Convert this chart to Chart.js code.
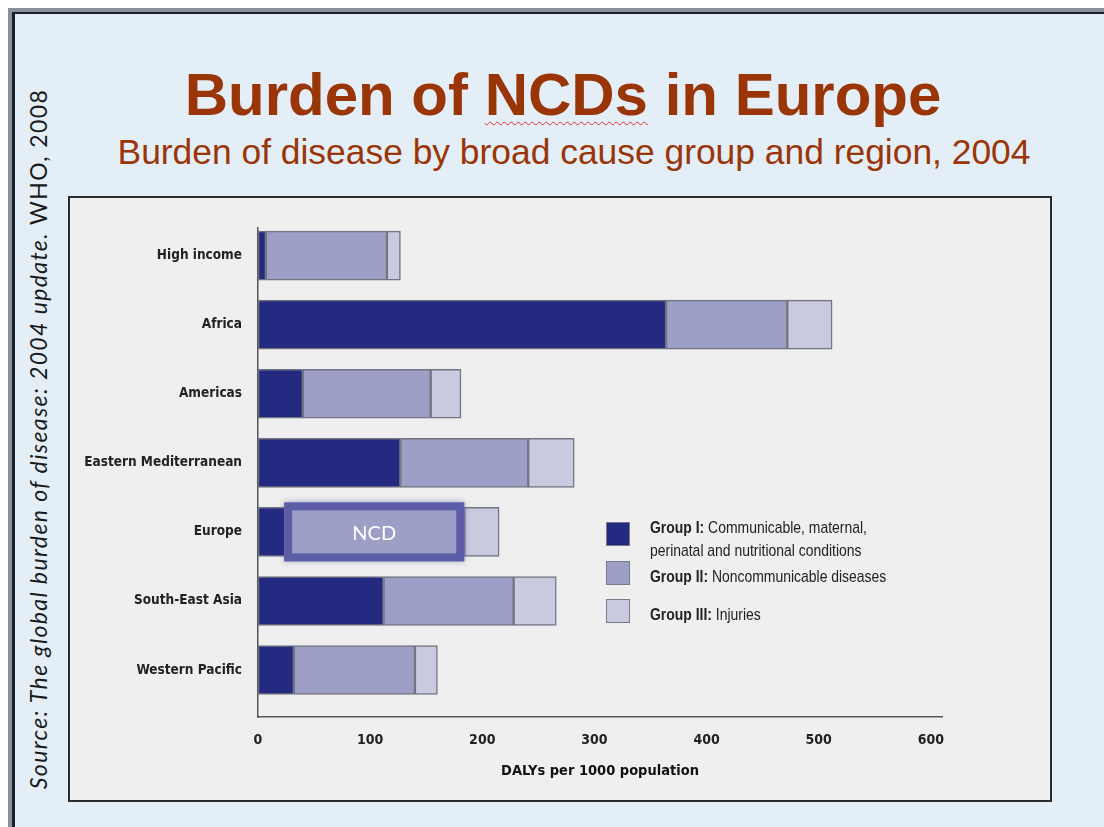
<!DOCTYPE html>
<html>
<head>
<meta charset="utf-8">
<script src="https://cdn.jsdelivr.net/npm/chart.js@4.4.1/dist/chart.umd.min.js"></script>
<style>
  html, body { margin: 0; padding: 0; background: #fff; }
  .page { position: relative; width: 1104px; height: 827px; overflow: hidden; background: #fff; }
  .frame { position: absolute; left: 8px; top: 8px; right: 0; bottom: 0;
    border-left: 4px solid #8b909e; border-top: 4px solid #8b909e; }
  .slide { position: absolute; left: 0; top: 0; right: 0; bottom: 0;
    border-left: 3px solid #1c1e2b; border-top: 2px solid #1c1e2b; background: #e3eef7; }
  .title { position: absolute; left: 563px; top: 65px; transform: translateX(-50%);
    white-space: nowrap; font: bold 60px/60px "Liberation Sans", Arial, sans-serif; color: #9a3508; }
  .title .ncds { text-decoration: underline wavy #e0302a; text-decoration-thickness: 1px; text-underline-offset: 6px; }
  .subtitle { position: absolute; left: 574px; top: 134px; transform: translateX(-50%);
    white-space: nowrap; font: 35.4px/36px "Liberation Sans", Arial, sans-serif; color: #9a3508; }
  .source { position: absolute; left: 38px; top: 439px; transform: translate(-50%, -50%) rotate(-90deg);
    white-space: nowrap; font: 23px Lato, "Open Sans", sans-serif; letter-spacing: 1.4px; color: #1a1a1a; }
  .source i { font-style: italic; }
  .panel { position: absolute; left: 68px; top: 196px; width: 980px; height: 602px;
    border: 2px solid #2c2c2c; background: #efefef; }
  .panel canvas { position: absolute; left: 0; top: 0; }
  .legend { position: absolute; left: 536px; top: 0; font-family: "Liberation Sans", Arial, sans-serif;
    font-size: 17px; line-height: 23px; color: #222; }
  .legend .row { position: absolute; left: 0; display: flex; align-items: flex-start; width: 340px; }
  .legend .box { width: 22px; height: 22px; border: 1px solid #7a7b88; flex: none; }
  .legend .txt { margin-left: 20px; width: 300px; transform: scaleX(0.82); transform-origin: left top; }
  .legend b { font-weight: bold; }
</style>
</head>
<body>
<div class="page">
  <div class="frame"><div class="slide"></div></div>
  <div class="title">Burden of <span class="ncds">NCDs</span> in Europe</div>
  <div class="subtitle">Burden of disease by broad cause group and region, 2004</div>
  <div class="source"><i>Source: The global burden of disease: 2004 update.</i> WHO, 2008</div>
  <div class="panel">
    <canvas id="chart" width="980" height="602"></canvas>
    <div class="legend" id="legend"></div>
  </div>
</div>
<script>
// DALYs per 1000 population, 2004
const regions = ['High income', 'Africa', 'Americas', 'Eastern Mediterranean', 'Europe', 'South-East Asia', 'Western Pacific'];
const groupI = [7, 364, 40, 127, 26, 112, 32];
const groupII = [108, 108, 114, 114, 158, 116, 108];
const groupIII = [12, 40, 27, 41, 31, 38, 20];
const xTicks = [0, 100, 200, 300, 400, 500, 600];
const groupNames = ['Group I:', 'Group II:', 'Group III:'];
const groupDescriptions = ['Communicable, maternal, perinatal and nutritional conditions', 'Noncommunicable diseases', 'Injuries'];
const highlightRegion = 'Europe';
const highlightText = 'NCD';

const COLORS = ['#242a80', '#9d9fc6', '#c9cadf'];
const NARROW = '"Liberation Sans Narrow", "DejaVu Sans Condensed", sans-serif';

function toPoints(values) {
  return values.map((v, i) => ({ x: v, y: i }));
}

// box round the NCD segment of the highlighted region
const ncdBox = {
  id: 'ncdBox',
  afterDatasetsDraw(chart) {
    const idx = regions.indexOf(highlightRegion);
    const el = chart.getDatasetMeta(1).data[idx];
    const { x, base, y, height } = el.getProps(['x', 'base', 'y', 'height'], true);
    const ctx = chart.ctx;
    const left = base - 3, right = x, top = y - height / 2 - 5, bottom = y + height / 2 + 5;
    ctx.save();
    ctx.shadowColor = 'rgba(70, 70, 150, 0.45)';
    ctx.shadowBlur = 6;
    ctx.fillStyle = COLORS[1];
    ctx.fillRect(left, top, right - left, bottom - top);
    ctx.shadowBlur = 0;
    ctx.strokeStyle = '#5d5ca6';
    ctx.lineWidth = 8;
    ctx.strokeRect(left + 4, top + 4, right - left - 8, bottom - top - 8);
    ctx.fillStyle = '#fff';
    ctx.font = '20px Lato, "Open Sans", sans-serif';
    ctx.textAlign = 'center';
    ctx.textBaseline = 'middle';
    ctx.fillText(highlightText, (left + right) / 2, y + 2);
    ctx.restore();
  }
};

const BURDEN_CHART = new Chart(document.getElementById('chart'), {
  type: 'bar',
  data: {
    datasets: [{
      label: groupNames[0] + ' ' + groupDescriptions[0],
      data: toPoints(groupI),
      backgroundColor: COLORS[0]
    }, {
      label: groupNames[1] + ' ' + groupDescriptions[1],
      data: toPoints(groupII),
      backgroundColor: COLORS[1]
    }, {
      label: groupNames[2] + ' ' + groupDescriptions[2],
      data: toPoints(groupIII),
      backgroundColor: COLORS[2]
    }]
  },
  options: {
    indexAxis: 'y',
    responsive: false,
    animation: false,
    layout: { padding: { top: 30, right: 108, left: 0, bottom: 0 } },
    datasets: {
      bar: { barThickness: 49, borderColor: '#737483', borderWidth: 1.5, borderSkipped: false }
    },
    plugins: { legend: { display: false }, tooltip: { enabled: false } },
    scales: {
      x: {
        type: 'linear',
        stacked: true,
        min: 0,
        max: 610,
        bounds: 'data',
        afterBuildTicks: s => { s.ticks = xTicks.map(v => ({ value: v })); },
        afterFit: s => { s.height = 83; },
        grid: { display: false, drawTicks: false },
        border: { display: true, color: '#555', width: 1.5 },
        ticks: { padding: 15, color: '#222', font: { family: NARROW, size: 14, weight: 'bold' } },
        title: {
          display: true,
          text: 'DALYs per 1000 population',
          color: '#111',
          padding: { top: 0, bottom: 20 },
          font: { family: NARROW, size: 14.5, weight: 'bold' }
        }
      },
      y: {
        type: 'linear',
        stacked: true,
        reverse: true,
        offset: false,
        bounds: 'data',
        grace: 0,
        min: -0.4,
        max: 6.68,
        afterBuildTicks: s => { s.ticks = regions.map((r, i) => ({ value: i })); },
        afterFit: s => { s.width = 188; },
        grid: { display: false, drawTicks: false },
        border: { display: true, color: '#555', width: 1.5 },
        ticks: {
          padding: 16,
          color: '#222',
          font: { family: NARROW, size: 13.5, weight: 'bold' },
          callback: v => regions[v]
        }
      }
    }
  },
  plugins: [ncdBox]
});

// HTML legend built from the datasets
const legendTops = [324, 363, 401];
const legendTextShift = [-6, 4, 4];
const legendEl = document.getElementById('legend');
BURDEN_CHART.data.datasets.forEach((ds, i) => {
  const row = document.createElement('div');
  row.className = 'row';
  row.style.top = legendTops[i] + 'px';
  row.innerHTML = '<div class="box" style="background:' + ds.backgroundColor + '"></div>' +
    '<div class="txt" style="margin-top:' + legendTextShift[i] + 'px"><b>' + groupNames[i] + '</b> ' + groupDescriptions[i] + '</div>';
  legendEl.appendChild(row);
});
</script>
</body>
</html>
